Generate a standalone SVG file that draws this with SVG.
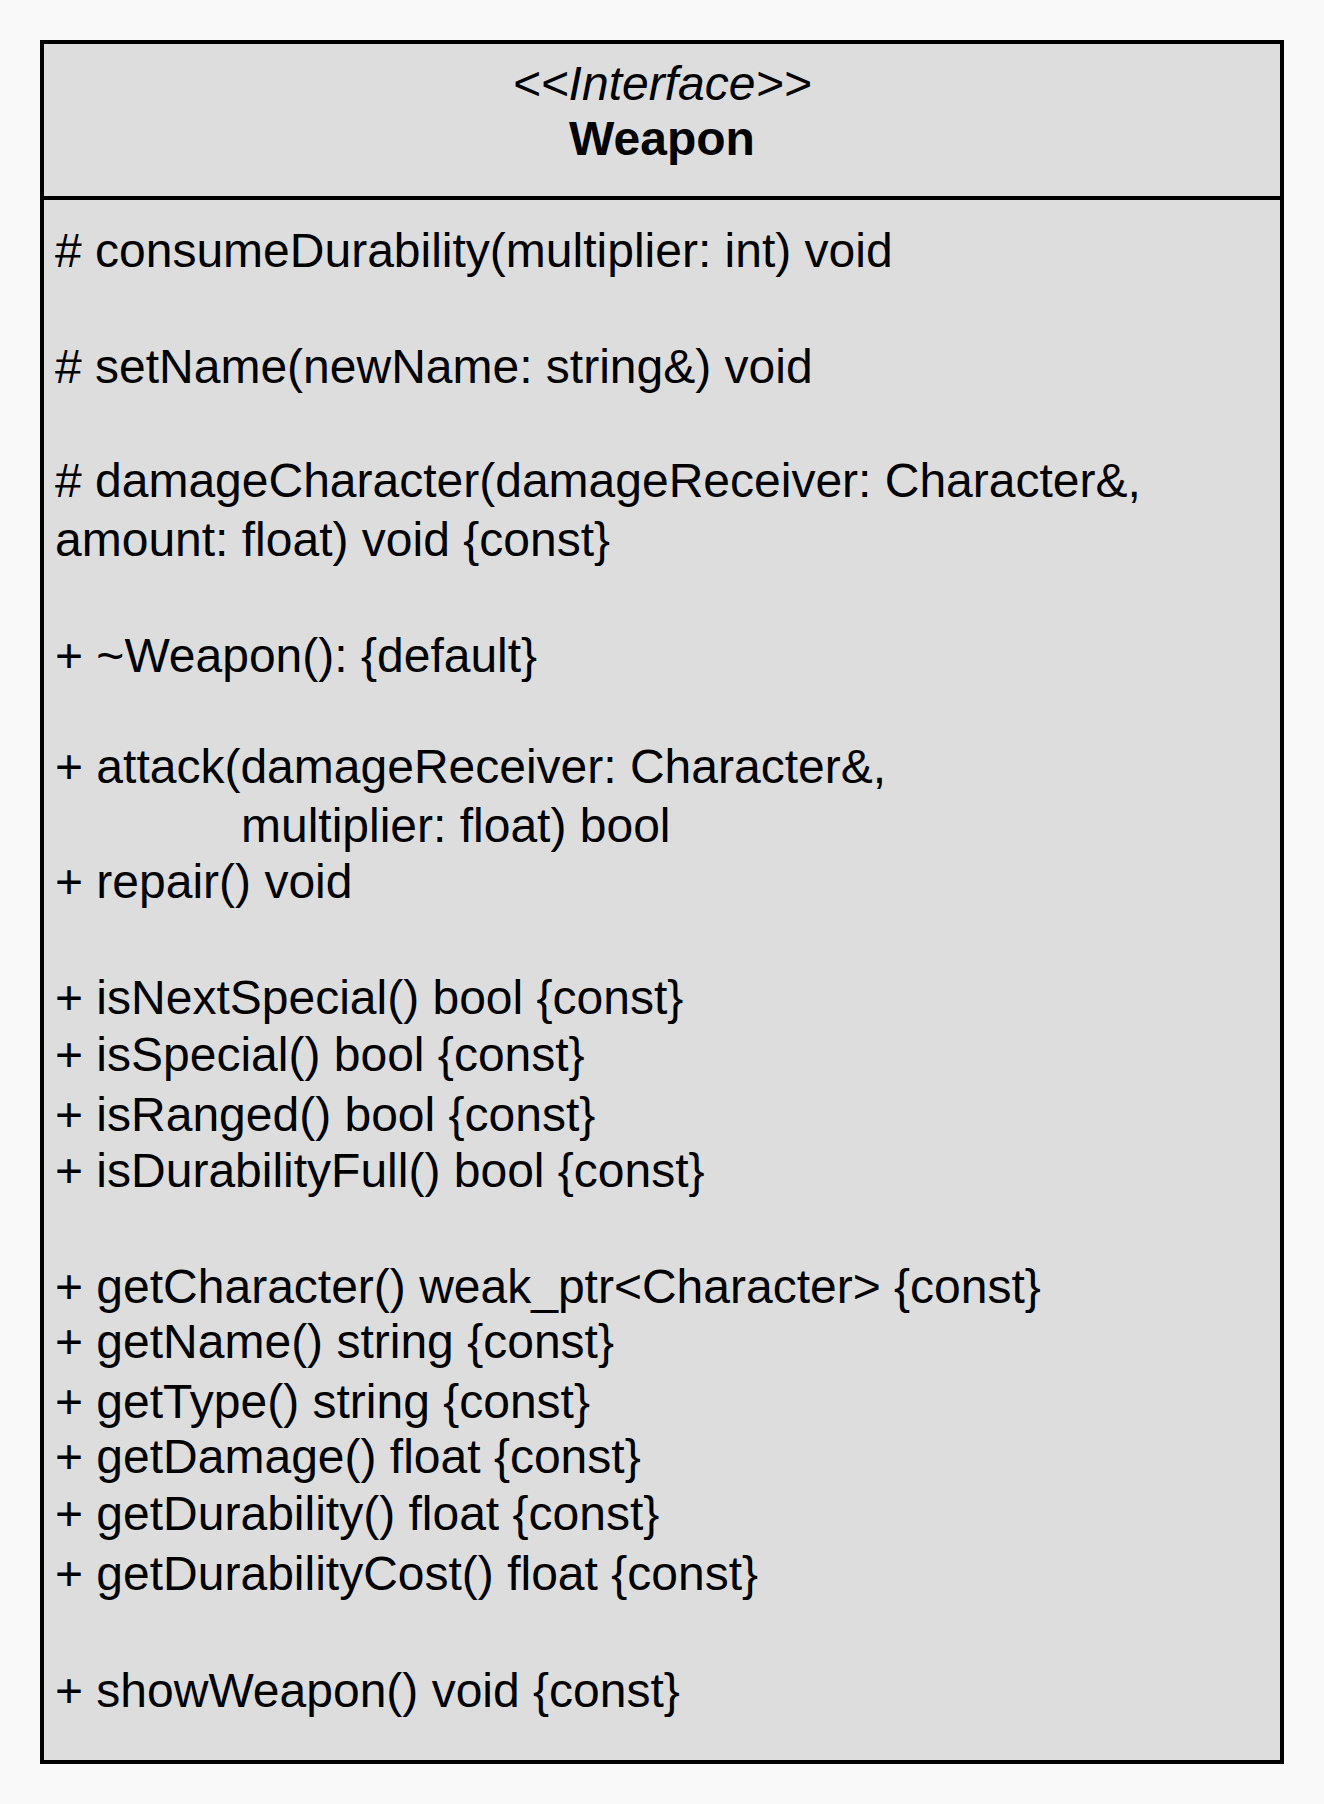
<svg xmlns="http://www.w3.org/2000/svg" width="1324" height="1804" viewBox="0 0 1324 1804">
  <style>
    .box { fill: #dddddd; stroke: #000000; stroke-width: 4; }
    .sep { stroke: #000000; stroke-width: 4; }
    .t { font-family: "Liberation Sans", Arial, sans-serif; font-size: 48px; fill: #000000; }
    .stereo { font-style: italic; text-anchor: middle; }
    .name { font-weight: bold; text-anchor: middle; }
  </style>
  <rect x="0" y="0" width="1324" height="1804" fill="#f9f9f9"/>

  <!-- Weapon interface class -->
  <g id="weapon">
    <rect class="box" x="42" y="42" width="1240" height="1720"/>
    <line class="sep" x1="42" y1="198" x2="1282" y2="198"/>
    <text class="t stereo" x="662" y="100">&lt;&lt;Interface&gt;&gt;</text>
    <text class="t name" x="662" y="155">Weapon</text>

    <text class="t" x="55" y="267"># consumeDurability(multiplier: int) void</text>
    <text class="t" x="55" y="383"># setName(newName: string&amp;) void</text>
    <text class="t" x="55" y="497"># damageCharacter(damageReceiver: Character&amp;,</text>
    <text class="t" x="55" y="556">amount: float) void {const}</text>
    <text class="t" x="55" y="672">+ ~Weapon(): {default}</text>
    <text class="t" x="55" y="783">+ attack(damageReceiver: Character&amp;,</text>
    <text class="t" x="241" y="842">multiplier: float) bool</text>
    <text class="t" x="55" y="898">+ repair() void</text>
    <text class="t" x="55" y="1014">+ isNextSpecial() bool {const}</text>
    <text class="t" x="55" y="1071">+ isSpecial() bool {const}</text>
    <text class="t" x="55" y="1131">+ isRanged() bool {const}</text>
    <text class="t" x="55" y="1187">+ isDurabilityFull() bool {const}</text>
    <text class="t" x="55" y="1303">+ getCharacter() weak_ptr&lt;Character&gt; {const}</text>
    <text class="t" x="55" y="1358">+ getName() string {const}</text>
    <text class="t" x="55" y="1418">+ getType() string {const}</text>
    <text class="t" x="55" y="1473">+ getDamage() float {const}</text>
    <text class="t" x="55" y="1530">+ getDurability() float {const}</text>
    <text class="t" x="55" y="1590">+ getDurabilityCost() float {const}</text>
    <text class="t" x="55" y="1707">+ showWeapon() void {const}</text>
  </g>

  <!-- no connectors in this diagram -->
  <g id="connectors"/>
</svg>
